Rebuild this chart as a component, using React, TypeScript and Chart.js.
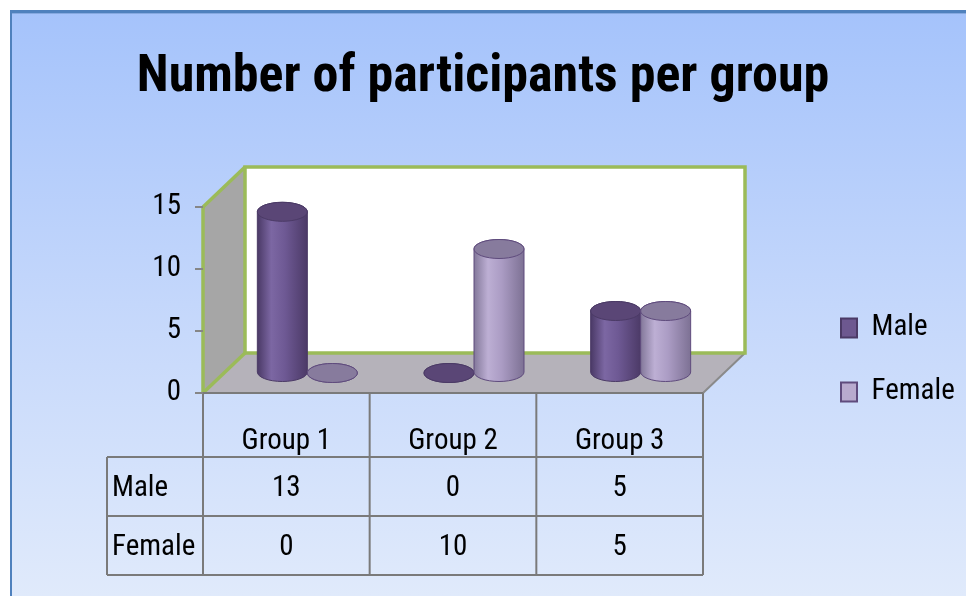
import React, { useEffect, useRef } from 'react';
import { Chart, registerables } from 'chart.js';

Chart.register(...registerables);

// ---------- data ----------
const categories = ['Group 1', 'Group 2', 'Group 3'];
const seriesNames = ['Male', 'Female'];
const maleValues = [13, 0, 5];
const femaleValues = [0, 10, 5];
const yTickValues = [0, 5, 10, 15];
const titleText = 'Number of participants per group';

// ---------- layout / style constants ----------
const W = 966;
const H = 596;
const FONT_CANDIDATES = [
  'Liberation Sans Narrow',
  'Arial Narrow',
  'Roboto Condensed',
  'DejaVu Sans Condensed',
  'Open Sans Condensed',
  'Lato',
];
const AREA = { left: 203, right: 703, top: 207, bottom: 393 };
const DEPTH = { dx: 42, dy: -40 };
const HEADER_H = 64;
const ROW_H = 59;
const ROW_HEAD_LEFT = 107;
const LEGEND_BOX_X = 841;
const LEGEND_FIRST_Y = 328;
const LEGEND_STEP = 64;
const TITLE_WIDTH = 693;
const TITLE_MIDDLE = 78;
const GROUP_LABEL_WIDTH = 88;

const MALE_STYLE = {
  fill: '#6d5890',
  stroke: '#4b3a66',
  body: ['#4a3966', '#7c67a3', '#6e5994', '#4c3a67'],
  top: '#5a4676',
};
const FEMALE_STYLE = {
  fill: '#b8aace',
  stroke: '#5f4b7d',
  body: ['#83789a', '#bdafd4', '#ab9cc4', '#7d7194'],
  top: '#877b9d',
};
const STYLES = [MALE_STYLE, FEMALE_STYLE];
const seriesValues = [maleValues, femaleValues];

const GREEN = '#9bbb59';
const GRID_GRAY = '#7a7a7a';

let FONT = 'sans-serif';
let TEXT_SIZE = 27;
let LEGEND_PAD = 37;

function fontAvailable(name: string): boolean {
  const c = document.createElement('canvas').getContext('2d');
  if (!c) return false;
  const s = 'Number of participants per group 0123';
  c.font = '40px monospace';
  const m = c.measureText(s).width;
  c.font = '40px serif';
  const se = c.measureText(s).width;
  c.font = `40px '${name}', monospace`;
  const a = c.measureText(s).width;
  c.font = `40px '${name}', serif`;
  const b = c.measureText(s).width;
  return a !== m || b !== se;
}

function measure(font: string, text: string): number {
  const c = document.createElement('canvas').getContext('2d');
  if (!c) return 1;
  c.font = font;
  return c.measureText(text).width;
}

function poly(ctx: CanvasRenderingContext2D, pts: number[][], fill?: string) {
  ctx.beginPath();
  ctx.moveTo(pts[0][0], pts[0][1]);
  for (let i = 1; i < pts.length; i++) ctx.lineTo(pts[i][0], pts[i][1]);
  ctx.closePath();
  if (fill) {
    ctx.fillStyle = fill;
    ctx.fill();
  }
}

function line(ctx: CanvasRenderingContext2D, x1: number, y1: number, x2: number, y2: number) {
  ctx.beginPath();
  ctx.moveTo(x1, y1);
  ctx.lineTo(x2, y2);
  ctx.stroke();
}

const sceneryPlugin = {
  id: 'scenery',
  beforeDraw(chart: any) {
    const ctx: CanvasRenderingContext2D = chart.ctx;
    const a = chart.chartArea;
    const { dx, dy } = DEPTH;
    ctx.save();
    ctx.fillStyle = '#ffffff';
    ctx.fillRect(0, 0, W, H);
    const g = ctx.createLinearGradient(0, 12, 0, H);
    g.addColorStop(0, '#a5c3fb');
    g.addColorStop(0.5, '#c4d7fb');
    g.addColorStop(1, '#e0eafb');
    ctx.fillStyle = g;
    ctx.fillRect(10, 10, W - 10, H - 10);
    ctx.fillStyle = '#4f81bd';
    ctx.fillRect(10, 10, W - 10, 3);
    ctx.fillRect(10, 10, 2, H - 10);
    ctx.fillStyle = '#86a9e0';
    ctx.fillRect(12, 13, W - 12, 1);

    poly(ctx, [[a.left, a.top], [a.left + dx, a.top + dy], [a.left + dx, a.bottom + dy], [a.left, a.bottom]], '#a6a6a6');
    poly(ctx, [[a.left, a.bottom], [a.left + dx, a.bottom + dy], [a.right + dx, a.bottom + dy], [a.right, a.bottom]], '#b5b2ba');
    ctx.fillStyle = '#ffffff';
    ctx.fillRect(a.left + dx, a.top + dy, a.right - a.left, a.bottom - a.top);

    ctx.strokeStyle = '#8a8a8a';
    ctx.lineWidth = 2;
    line(ctx, a.right, a.bottom, a.right + dx, a.bottom + dy);

    ctx.strokeStyle = GREEN;
    ctx.lineWidth = 3.5;
    ctx.strokeRect(a.left + dx, a.top + dy, a.right - a.left, a.bottom - a.top);
    line(ctx, a.left, a.top, a.left + dx, a.top + dy);
    line(ctx, a.left, a.bottom, a.left + dx, a.bottom + dy);
    line(ctx, a.left, a.top, a.left, a.bottom);

    const n = categories.length;
    const step = (a.right - a.left) / n;
    const tableBottom = a.bottom + HEADER_H + ROW_H * seriesNames.length;
    ctx.strokeStyle = GRID_GRAY;
    ctx.lineWidth = 2;
    line(ctx, a.left, a.bottom, a.right, a.bottom);
    for (let i = 0; i <= n; i++) {
      const x = a.left + i * step;
      line(ctx, x, a.bottom, x, tableBottom);
    }
    line(ctx, ROW_HEAD_LEFT, a.bottom + HEADER_H, ROW_HEAD_LEFT, tableBottom);
    for (let r = 0; r <= seriesNames.length; r++) {
      const y = a.bottom + HEADER_H + r * ROW_H;
      line(ctx, ROW_HEAD_LEFT, y, a.right, y);
    }
    ctx.restore();
  },
  beforeDatasetDraw() {
    return false;
  },
  afterDatasetsDraw(chart: any) {
    const ctx: CanvasRenderingContext2D = chart.ctx;
    const { dx, dy } = DEPTH;
    ctx.save();
    chart.data.datasets.forEach((_ds: any, di: number) => {
      const meta = chart.getDatasetMeta(di);
      const st = STYLES[di];
      meta.data.forEach((bar: any) => {
        if (![bar.x, bar.y, bar.base, bar.width].every((v) => Number.isFinite(v))) return;
        const rx = bar.width / 2;
        const ry = rx * 0.38;
        const cx = bar.x + dx / 2;
        const top = bar.y + dy / 2;
        const base = bar.base + dy / 2;
        const grad = ctx.createLinearGradient(cx - rx, 0, cx + rx, 0);
        grad.addColorStop(0, st.body[0]);
        grad.addColorStop(0.28, st.body[1]);
        grad.addColorStop(0.55, st.body[2]);
        grad.addColorStop(1, st.body[3]);
        ctx.beginPath();
        ctx.moveTo(cx - rx, top);
        ctx.lineTo(cx - rx, base);
        ctx.ellipse(cx, base, rx, ry, 0, Math.PI, 0, true);
        ctx.lineTo(cx + rx, top);
        ctx.ellipse(cx, top, rx, ry, 0, 0, Math.PI, true);
        ctx.closePath();
        ctx.fillStyle = grad;
        ctx.fill();
        ctx.strokeStyle = st.stroke;
        ctx.lineWidth = 1;
        ctx.stroke();
        ctx.beginPath();
        ctx.ellipse(cx, top, rx, ry, 0, 0, Math.PI * 2);
        ctx.fillStyle = st.top;
        ctx.fill();
        ctx.stroke();
      });
    });
    ctx.restore();
  },
  afterDraw(chart: any) {
    const ctx: CanvasRenderingContext2D = chart.ctx;
    const a = chart.chartArea;
    const xs = chart.scales.x;
    ctx.save();
    ctx.font = `${TEXT_SIZE}px ${FONT}`;
    ctx.fillStyle = '#000000';
    ctx.textBaseline = 'middle';
    seriesNames.forEach((name, r) => {
      const y = a.bottom + HEADER_H + r * ROW_H + ROW_H / 2 + 2;
      ctx.textAlign = 'left';
      ctx.fillText(name, ROW_HEAD_LEFT + 5, y);
      ctx.textAlign = 'center';
      seriesValues[r].forEach((v, i) => {
        ctx.fillText(String(v), xs.getPixelForValue(i), y);
      });
    });
    ctx.restore();
  },
  afterLayout(chart: any) {
    const lg = chart.legend;
    if (!lg) return;
    const w = lg.width;
    const h = lg.height;
    lg.left = LEGEND_BOX_X - LEGEND_PAD;
    lg.right = lg.left + w;
    lg.top = LEGEND_FIRST_Y - TEXT_SIZE / 2 - LEGEND_PAD;
    lg.bottom = lg.top + h;
  },
};

export default function App() {
  const ref = useRef<HTMLCanvasElement>(null);
  useEffect(() => {
    const canvas = ref.current;
    if (!canvas) return;
    const found = FONT_CANDIDATES.find((f) => fontAvailable(f)) || 'Liberation Sans';
    FONT = `'${found}', sans-serif`;
    const perPxGroup = measure(`100px ${FONT}`, 'Group 1') / 100;
    TEXT_SIZE = Math.max(22, Math.min(30, Math.round(GROUP_LABEL_WIDTH / perPxGroup)));
    LEGEND_PAD = LEGEND_STEP - TEXT_SIZE;
    const perPxTitle = measure(`bold 100px ${FONT}`, titleText) / 100;
    const titleSize = Math.max(36, Math.min(56, Math.floor(TITLE_WIDTH / perPxTitle)));
    const titleLine = titleSize * 1.2;
    const titleTop = TITLE_MIDDLE - titleLine / 2;

    const chart = new Chart(canvas, {
      type: 'bar',
      data: {
        labels: categories,
        datasets: seriesNames.map((name, i) => ({
          label: name,
          data: seriesValues[i],
          backgroundColor: STYLES[i].fill,
          borderColor: STYLES[i].stroke,
          borderWidth: 2,
          categoryPercentage: 0.6,
          barPercentage: 1.0,
        })),
      },
      options: {
        responsive: false,
        animation: false,
        devicePixelRatio: 1,
        layout: { padding: 0 },
        plugins: {
          title: {
            display: true,
            text: titleText,
            color: '#000000',
            font: { family: FONT, size: titleSize, weight: 'bold', lineHeight: 1.2 },
            padding: { top: titleTop, bottom: AREA.top - titleTop - titleLine },
          },
          legend: {
            display: true,
            position: 'chartArea',
            align: 'start',
            labels: {
              font: { family: FONT, size: TEXT_SIZE },
              color: '#000000',
              boxWidth: 16,
              boxHeight: 19,
              padding: LEGEND_PAD,
            },
          },
          tooltip: { enabled: false },
        },
        scales: {
          x: {
            type: 'category',
            position: 'bottom',
            grid: { display: false, drawTicks: false },
            border: { display: false },
            ticks: {
              font: { family: FONT, size: TEXT_SIZE },
              color: '#000000',
              padding: 31,
              maxRotation: 0,
              autoSkip: false,
            },
            afterFit: (s: any) => {
              s.height = H - AREA.bottom;
            },
          },
          y: {
            type: 'linear',
            position: 'left',
            min: 0,
            max: 15,
            ticks: {
              stepSize: 5,
              font: { family: FONT, size: TEXT_SIZE },
              color: '#000000',
              padding: 14,
              callback: (v: any) => (yTickValues.includes(Number(v)) ? String(v) : ''),
            },
            grid: {
              display: true,
              drawOnChartArea: false,
              drawTicks: true,
              tickLength: 8,
              tickColor: '#868686',
              lineWidth: 2,
            },
            border: { display: false },
            afterFit: (s: any) => {
              s.width = AREA.left;
            },
          },
          yR: {
            type: 'linear',
            position: 'right',
            display: true,
            grid: { display: false },
            border: { display: false },
            ticks: { display: false },
            afterFit: (s: any) => {
              s.width = W - AREA.right;
            },
          },
        },
      } as any,
      plugins: [sceneryPlugin as any],
    });
    return () => chart.destroy();
  }, []);
  return (
    <div style={{ position: 'fixed', left: 0, top: 0, width: W, height: H }}>
      <canvas ref={ref} width={W} height={H} style={{ display: 'block', width: W, height: H }} />
    </div>
  );
}
